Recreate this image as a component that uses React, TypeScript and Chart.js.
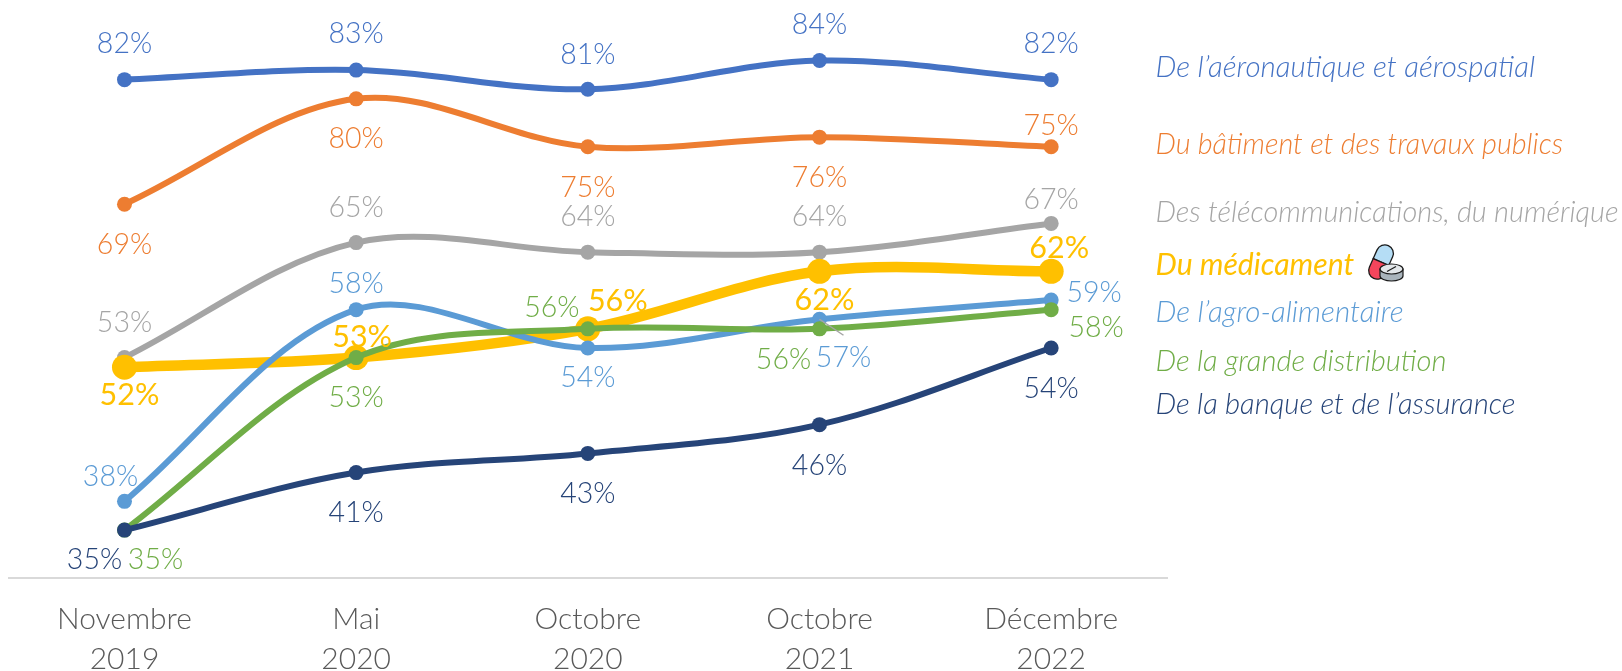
import React, { useEffect, useRef } from "react";
import { Chart, registerables } from "chart.js";

Chart.register(...registerables);

const categories = [["Novembre", "2019"], ["Mai", "2020"], ["Octobre", "2020"], ["Octobre", "2021"], ["Décembre", "2022"]];
const aero = [82, 83, 81, 84, 82];
const batiment = [69, 80, 75, 76, 75];
const telecom = [53, 65, 64, 64, 67];
const medicament = [52, 53, 56, 62, 62];
const agro = [38, 58, 54, 57, 59];
const distribution = [35, 53, 56, 56, 58];
const banque = [35, 41, 43, 46, 54];

const aeroName = "De l’aéronautique et aérospatial";
const batimentName = "Du bâtiment et des travaux publics";
const telecomName = "Des télécommunications, du numérique";
const medicamentName = "Du médicament";
const agroName = "De l’agro-alimentaire";
const distributionName = "De la grande distribution";
const banqueName = "De la banque et de l’assurance";

const FONT = "Lato";
const NORMAL = { width: 6, radius: 7.5, font: `300 28.5px ${FONT}` };
const BIG = { width: 10.5, radius: 12.5, font: `400 30.5px ${FONT}` };

// drawn back to front by reversing: first entry ends up on top
const seriesList = [
  { name: banqueName, data: banque, color: "#264478", style: NORMAL, legendY: 404.5, legendW: 360,
    off: [[-30, 30], [0, 40], [0, 40], [0, 41], [0, 41]] },
  { name: distributionName, data: distribution, color: "#70AD47", style: NORMAL, legendY: 361, legendW: 291,
    off: [[31, 30], [0, 40], [-36, -21], [-36, 31], [45, 18]] },
  { name: agroName, data: agro, color: "#5B9BD5", style: NORMAL, legendY: 312, legendW: 248,
    off: [[-14, -25], [0, -26], [0, 30], [24, 39], [43, -7]] },
  { name: medicamentName, data: medicament, color: "#FFC000", style: BIG, legendY: 265, legendW: 198.6,
    off: [[5, 28], [6, -20], [30, -28], [5, 29], [8, -23]] },
  { name: telecomName, data: telecom, color: "#A5A5A5", style: NORMAL, legendY: 212.5, legendW: 463,
    off: [[0, -35], [0, -35], [0, -35], [0, -35], [0, -24]] },
  { name: batimentName, data: batiment, color: "#ED7D31", style: NORMAL, legendY: 144.5, legendW: 407.6,
    off: [[0, 41], [0, 40], [0, 41], [0, 41], [0, -21]] },
  { name: aeroName, data: aero, color: "#4472C4", style: NORMAL, legendY: 67.5, legendW: 379.6,
    off: [[0, -36], [0, -36], [0, -34], [0, -36], [0, -36]] },
];

function drawPillIcon(ctx: CanvasRenderingContext2D, x: number, y: number) {
  ctx.save();
  ctx.translate(x, y);
  // capsule
  ctx.save();
  ctx.translate(14, 17);
  ctx.rotate((24 * Math.PI) / 180);
  const w = 8.5, h = 18;
  ctx.lineWidth = 1.3;
  ctx.strokeStyle = "#1a1a1a";
  ctx.beginPath();
  ctx.moveTo(-w, 0); ctx.lineTo(-w, -h + w); ctx.arc(0, -h + w, w, Math.PI, 0); ctx.lineTo(w, 0); ctx.closePath();
  ctx.fillStyle = "#B5DDF5"; ctx.fill(); ctx.stroke();
  ctx.beginPath();
  ctx.moveTo(-w, 0); ctx.lineTo(-w, h - w); ctx.arc(0, h - w, w, Math.PI, 0, true); ctx.lineTo(w, 0); ctx.closePath();
  ctx.fillStyle = "#F5455C"; ctx.fill(); ctx.stroke();
  ctx.restore();
  // tablet
  ctx.lineWidth = 1.2;
  ctx.strokeStyle = "#1a1a1a";
  ctx.fillStyle = "#A9B4BC";
  ctx.beginPath();
  ctx.moveTo(13, 24); ctx.lineTo(13, 31);
  ctx.ellipse(24.5, 31, 11.5, 5, 0, Math.PI, 0, true);
  ctx.lineTo(36, 24); ctx.closePath();
  ctx.fill(); ctx.stroke();
  ctx.fillStyle = "#E3E7EA";
  ctx.beginPath(); ctx.ellipse(24.5, 24, 11.5, 5, 0, 0, Math.PI * 2); ctx.fill(); ctx.stroke();
  ctx.beginPath(); ctx.moveTo(20, 26.5); ctx.lineTo(29, 21.5); ctx.stroke();
  ctx.restore();
}

const annotations = {
  id: "annotations",
  afterDatasetsDraw(chart: any) {
    const ctx = chart.ctx as CanvasRenderingContext2D;
    ctx.save();
    // leader line of the 57% label
    const agroIdx = seriesList.findIndex((s) => s.name === agroName);
    const p = chart.getDatasetMeta(agroIdx).data[3];
    ctx.strokeStyle = "#A5A5A5";
    ctx.lineWidth = 1.5;
    ctx.beginPath();
    ctx.moveTo(p.x, p.y + 0);
    ctx.lineTo(p.x + 24, p.y + 16);
    ctx.stroke();

    ctx.textBaseline = "middle";
    seriesList.forEach((s, i) => {
      const meta = chart.getDatasetMeta(i);
      ctx.fillStyle = s.color;
      ctx.font = s.style.font;
      ctx.textAlign = "center";
      s.data.forEach((v, j) => {
        const pt = meta.data[j];
        ctx.fillText(`${v}%`, pt.x + s.off[j][0], pt.y + s.off[j][1]);
      });
      ctx.textAlign = "left";
      ctx.font = s.style === BIG ? `italic 400 30.5px ${FONT}` : `italic 300 30px ${FONT}`;
      ctx.fillText(s.name, 1155.5, s.legendY, s.legendW);
    });
    drawPillIcon(ctx, 1367, 245);
    ctx.restore();
  },
};

export default function App() {
  const ref = useRef<HTMLCanvasElement | null>(null);
  useEffect(() => {
    const chart = new Chart(ref.current as HTMLCanvasElement, {
      type: "line",
      plugins: [annotations],
      data: {
        labels: categories as any,
        datasets: seriesList.map((s) => ({
          label: s.name,
          data: s.data,
          borderColor: s.color,
          backgroundColor: s.color,
          borderWidth: s.style.width,
          pointRadius: s.style.radius,
          pointHoverRadius: s.style.radius,
          pointBorderWidth: 0,
          tension: 0.34,
          fill: false,
          clip: false as any,
        })),
      },
      options: {
        animation: false,
        responsive: false,
        layout: { autoPadding: false, padding: { left: 8.65, right: 455, top: 3, bottom: 0 } },
        plugins: { legend: { display: false }, tooltip: { enabled: false }, title: { display: false } },
        scales: {
          y: { display: false, min: 30, max: 90 },
          x: {
            offset: true,
            afterFit(scale: any) { scale.height = 93; },
            grid: { display: false, drawTicks: false },
            border: { display: true, color: "#D9D9D9", width: 2 },
            ticks: {
              color: "#595959",
              padding: 21,
              maxRotation: 0,
              autoSkip: false,
              font: { family: FONT, size: 30, weight: 300, lineHeight: 1.33 },
            },
          },
        },
      },
    });
    return () => chart.destroy();
  }, []);
  return (
    <div style={{ position: "fixed", left: 0, top: 0, width: 1622, height: 671, background: "#fff" }}>
      <canvas ref={ref} width={1622} height={671} style={{ display: "block" }} />
    </div>
  );
}
